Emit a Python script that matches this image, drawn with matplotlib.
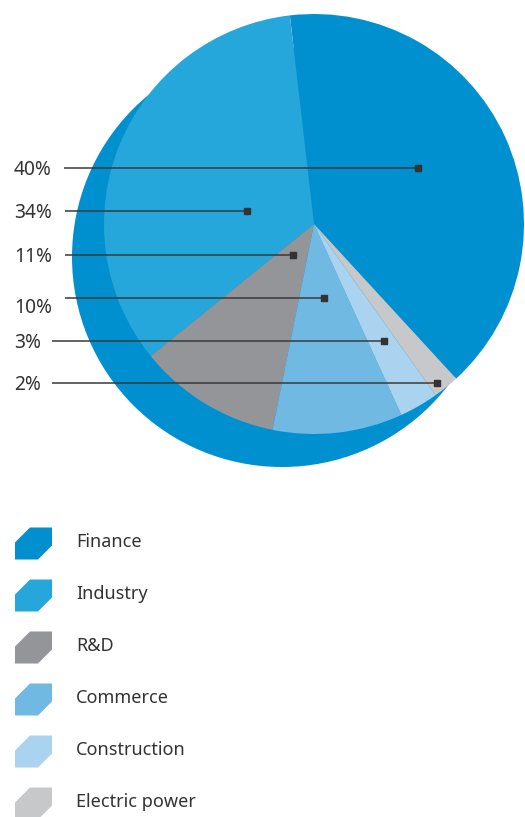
""" Pie chart of sector shares with leader-line labels """

import matplotlib
matplotlib.use("Agg")
import matplotlib.pyplot as plt
from matplotlib.patches import Circle, Polygon

# sector data (legend order)
sectors = ["Finance", "Industry", "R&D", "Commerce", "Construction", "Electric power"]
shares = [40, 34, 11, 10, 3, 2]
colors = ["#008fcf", "#25a7db", "#939598", "#6fb9e3", "#a9d3ee", "#c7c8ca"]

# label text and where each leader line ends (pixel coords, y down)
label_text = ["40%", "34%", "11%", "10%", "3%", "2%"]
anchor_x = [418, 247, 293, 324, 384, 437]
line_y = [167.5, 211, 254.5, 297.5, 341, 383]
line_x0 = [64, 65, 65, 65, 52, 52]
text_y = [169.5, 212.5, 256.5, 307.5, 342.5, 385]

W, H = 525, 817


def fy(y):
    # pixel row -> data y
    return H - y


plt.rcParams['font.family'] = ['Noto Sans', 'DejaVu Sans']

fig = plt.figure(figsize=(W / 100, H / 100), dpi=100)
ax = fig.add_axes([0, 0, 1, 1])

# backdrop disc behind the pie
ax.add_patch(Circle((282, fy(257)), 210, color=colors[0], lw=0, zorder=0))

wedges, _ = ax.pie(shares, colors=colors, startangle=-47.4, counterclock=True,
                   center=(314, fy(224)), radius=210, frame=True,
                   wedgeprops=dict(linewidth=0))
for w in wedges:
    w.set_zorder(1)
ax.set_xlim(0, W)
ax.set_ylim(0, H)
ax.set_aspect('equal')
ax.axis('off')

# leader lines and percent labels
for txt, ax_x, ly, lx0, ty in zip(label_text, anchor_x, line_y, line_x0, text_y):
    ax.plot([lx0, ax_x], [fy(ly), fy(ly)], color="#3a3a3a", lw=1.3, alpha=0.85,
            solid_capstyle='butt', zorder=3)
    ax.plot([ax_x], [fy(ly)], marker='s', ms=3.8, color="#333333", zorder=4)
    ax.text(14, fy(ty), txt, fontsize=13.8, color="#333333", va='center', ha='left')

# legend with clipped-corner swatches
row0, step = 543.5, 52
for i, (name, c) in enumerate(zip(sectors, colors)):
    top = row0 - 16 + i * step
    pts = [(15, top + 15), (30, top), (52, top), (52, top + 18),
           (38, top + 32), (15, top + 32)]
    ax.add_patch(Polygon([(x, fy(y)) for x, y in pts], closed=True, color=c, lw=0))
    ax.text(76, fy(row0 - 1.5 + i * step), name, fontsize=13, color="#333333",
            va='center', ha='left')

fig.savefig("out.png", dpi=100)
